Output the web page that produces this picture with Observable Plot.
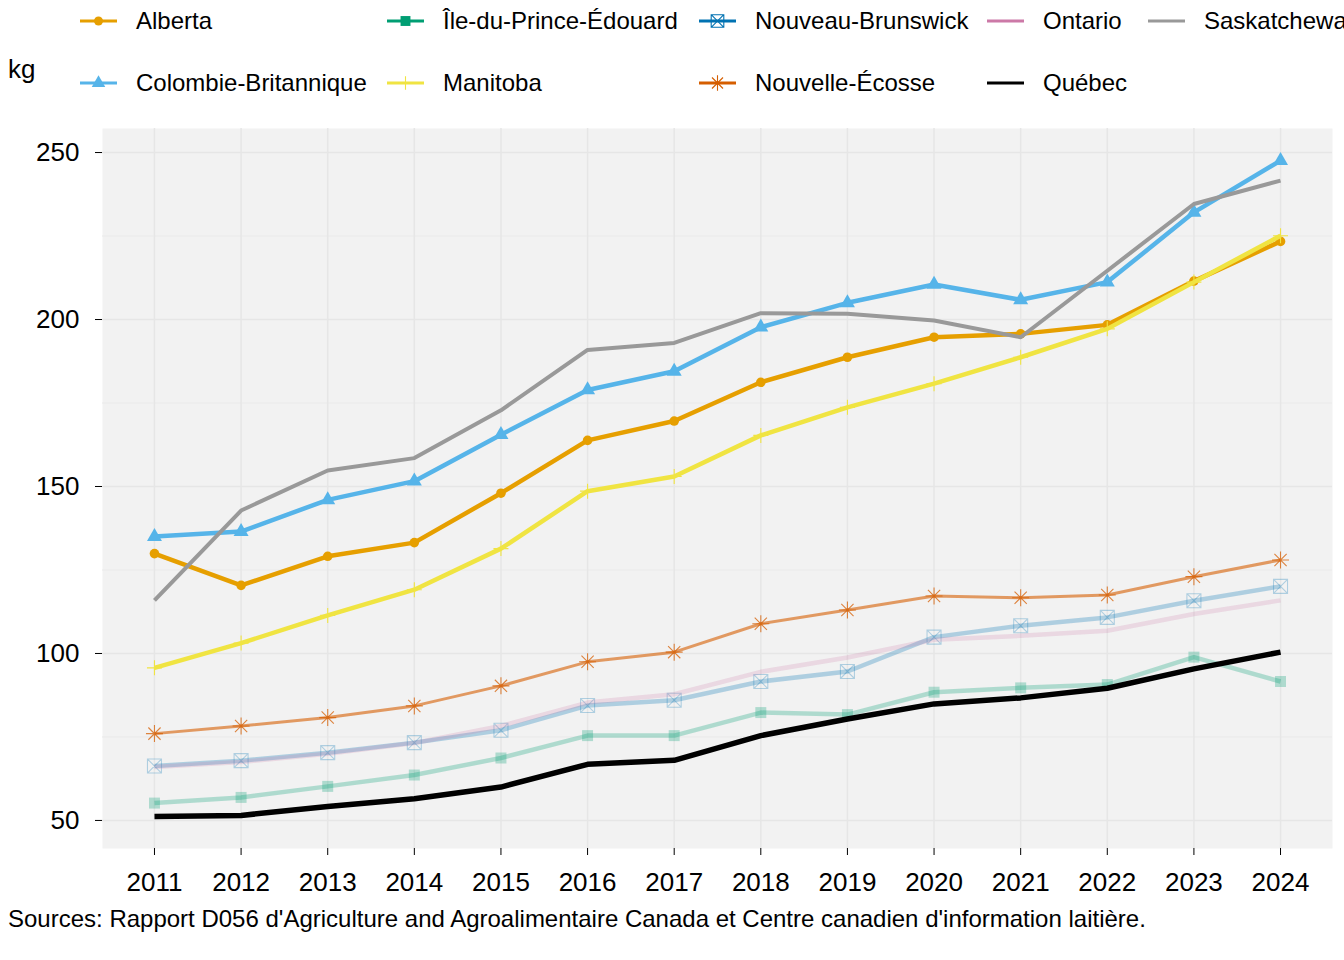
<!DOCTYPE html>
<html><head><meta charset="utf-8">
<script src="https://cdn.jsdelivr.net/npm/d3@7"></script>
<script src="https://cdn.jsdelivr.net/npm/@observablehq/plot@0.6"></script>
<style>
body{margin:0;background:#fff;font-family:"Liberation Sans",Arial,sans-serif;color:#000;}
#wrap{position:relative;width:1344px;height:960px;overflow:hidden;background:#fff;}
#legend{position:absolute;left:0;top:0;width:1344px;height:110px;overflow:hidden;}
.item{position:absolute;height:40px;display:flex;align-items:center;white-space:nowrap;font-size:24px;}
.item svg{margin-right:19px;}
#kg{position:absolute;left:8px;top:54px;font-size:26px;}
#chart{position:absolute;left:0;top:110px;}
#caption{position:absolute;left:8px;top:905px;font-size:24px;white-space:nowrap;}
</style></head><body>
<div id="wrap">
  <div id="legend"></div>
  <div id="kg">kg</div>
  <div id="chart"></div>
  <div id="caption">Sources: Rapport D056 d'Agriculture and Agroalimentaire Canada et Centre canadien d'information laitière.</div>
</div>
<script>
const years = [2011,2012,2013,2014,2015,2016,2017,2018,2019,2020,2021,2022,2023,2024];
const provinces = ["Alberta","Colombie-Britannique","Île-du-Prince-Édouard","Manitoba","Nouveau-Brunswick","Nouvelle-Écosse","Ontario","Québec","Saskatchewan"];
const alberta  = [129.9,120.4,129.1,133.2,148.0,163.8,169.6,181.2,188.7,194.7,195.7,198.4,211.5,223.4];
const colombie = [135.0,136.5,146.0,151.6,165.5,178.9,184.5,197.7,205.0,210.5,205.9,211.2,232.1,247.6];
const ipe      = [55.2,56.9,60.2,63.6,68.7,75.4,75.4,82.3,81.7,88.4,89.7,90.7,98.9,91.6];
const manitoba = [95.7,103.1,111.4,119.1,131.4,148.6,153.0,165.3,173.7,180.8,188.7,197.2,211.2,225.1];
const nouveauBrunswick = [66.3,67.9,70.3,73.3,77.0,84.4,86.0,91.6,94.6,104.9,108.3,110.8,115.8,120.1];
const nouvelleEcosse   = [76.0,78.3,80.8,84.3,90.3,97.5,100.4,108.9,113.0,117.2,116.7,117.5,123.0,128.0];
const ontario  = [66.0,67.5,70.0,73.2,78.3,85.3,87.8,94.5,98.8,104.1,105.3,106.8,111.8,115.9];
const quebec   = [51.2,51.5,54.2,56.5,60.0,66.8,68.0,75.4,80.4,84.9,86.7,89.6,95.4,100.4];
const saskatchewan = [115.9,142.8,154.8,158.5,172.8,190.9,193.0,201.9,201.7,199.7,194.7,214.6,234.6,241.6];
const yTicks = [50,100,150,200,250];
const yMinor = [75,125,175,225];

const seriesValues = [alberta,colombie,ipe,manitoba,nouveauBrunswick,nouvelleEcosse,ontario,quebec,saskatchewan];
const colors = ["#E69F00","#56B4E9","#009E73","#F0E442","#0072B2","#D55E00","#CC79A7","#000000","#999999"];

// custom symbols (r = half extent)
const R = s => Math.sqrt(s/Math.PI);
const symPlus = {draw(c,s){const r=R(s);c.moveTo(-r,0);c.lineTo(r,0);c.moveTo(0,-r);c.lineTo(0,r);}};
const symSqX = {draw(c,s){const r=R(s);c.moveTo(-r,-r);c.lineTo(r,-r);c.lineTo(r,r);c.lineTo(-r,r);c.closePath();c.moveTo(-r,-r);c.lineTo(r,r);c.moveTo(r,-r);c.lineTo(-r,r);}};
const symAst = {draw(c,s){const r=R(s);const d=r*0.72;c.moveTo(-r,0);c.lineTo(r,0);c.moveTo(0,-r);c.lineTo(0,r);c.moveTo(-d,-d);c.lineTo(d,d);c.moveTo(d,-d);c.lineTo(-d,d);}};
const symSq = {draw(c,s){const r=R(s);c.rect(-r,-r,2*r,2*r);}};
const symTri = {draw(c,s){const r=R(s);c.moveTo(0,-r*1.15);c.lineTo(r,r*0.58);c.lineTo(-r,r*0.58);c.closePath();}};

const styles = [
  {w:4.5, op:1,    sym:"circle", r:4.8, fill:true},
  {w:4.5, op:1,    sym:symTri,  r:7.5, fill:true},
  {w:4.5, op:0.28, sym:symSq,   r:5.5, fill:true},
  {w:4.5, op:1,    sym:symPlus, r:7.5, fill:false},
  {w:4.5, op:0.28, sym:symSqX,  r:7,   fill:false},
  {w:3,   op:0.6,  sym:symAst,  r:8.5, fill:false, symOp:0.75},
  {w:4.5, op:0.22, sym:null},
  {w:5.5, op:1,    sym:null},
  {w:4,   op:1,    sym:null}
];

const data = [];
provinces.forEach((p,i)=>years.forEach((y,j)=>data.push({province:p, idx:i, year:y, value:seriesValues[i][j]})));

const marks = [
  Plot.frame({fill:"#F2F2F2", stroke:null}),
  Plot.ruleY(yMinor, {stroke:"#EAEAEA", strokeWidth:1}),
  Plot.ruleY(yTicks, {stroke:"#E6E6E6", strokeWidth:1.5}),
  Plot.ruleX(years, {stroke:"#E6E6E6", strokeWidth:1.5}),
  Plot.axisX({ticks:years, tickFormat:d=>String(d), tickSize:7, tickPadding:17, fontSize:26, stroke:"#000", label:null}),
  Plot.axisY({ticks:yTicks, tickSize:7, tickPadding:16, fontSize:26, stroke:"#000", label:null})
];
provinces.forEach((p,i)=>{
  const st = styles[i];
  const d = data.filter(e=>e.idx===i);
  marks.push(Plot.line(d, {x:"year", y:"value", stroke:colors[i], strokeWidth:st.w, strokeOpacity:st.op, strokeLinejoin:"round", strokeLinecap:"butt"}));
  if (st.sym) {
    const o = st.symOp ?? st.op;
    if (st.fill) marks.push(Plot.dot(d, {x:"year", y:"value", symbol:st.sym, r:st.r, fill:colors[i], fillOpacity:o, stroke:null}));
    else marks.push(Plot.dot(d, {x:"year", y:"value", symbol:st.sym, r:st.r, fill:"none", stroke:colors[i], strokeOpacity:o, strokeWidth:1.1}));
  }
});

const chart = Plot.plot({
  width:1344, height:790,
  marginTop:18, marginLeft:102, marginRight:12, marginBottom:52,
  style:{fontFamily:"Liberation Sans, Arial, sans-serif", fontSize:"26px", color:"#000", background:"transparent", overflow:"visible"},
  x:{type:"linear", domain:[2010.4, 2024.6]},
  y:{domain:[41.6, 257.2]},
  marks
});
document.getElementById("chart").appendChild(chart);

// legend
const colX = [80, 387, 699, 987, 1148];
const rowY = [1, 63];
const legend = document.getElementById("legend");
provinces.forEach((p,i)=>{
  const col = Math.floor(i/2), row = i%2;
  const div = document.createElement("div");
  div.className = "item";
  div.style.left = colX[col]+"px";
  div.style.top = rowY[row]+"px";
  const svg = d3.create("svg").attr("width",37).attr("height",40);
  svg.append("line").attr("x1",0).attr("x2",37).attr("y1",20).attr("y2",20).attr("stroke",colors[i]).attr("stroke-width",3);
  const st = styles[i];
  if (st.sym) {
    const g = svg.append("g").attr("transform","translate(18.5,20)");
    if (st.sym === "circle") g.append("circle").attr("r",4.5).attr("fill",colors[i]);
    else {
      const rr = st.r*0.9;
      const path = d3.symbol(st.sym, Math.PI*rr*rr)();
      if (st.fill) g.append("path").attr("d",path).attr("fill",colors[i]);
      else g.append("path").attr("d",path).attr("fill","none").attr("stroke",colors[i]).attr("stroke-width",1.1);
    }
  }
  div.appendChild(svg.node());
  const span = document.createElement("span");
  span.textContent = p;
  div.appendChild(span);
  legend.appendChild(div);
});
</script>
</body></html>
